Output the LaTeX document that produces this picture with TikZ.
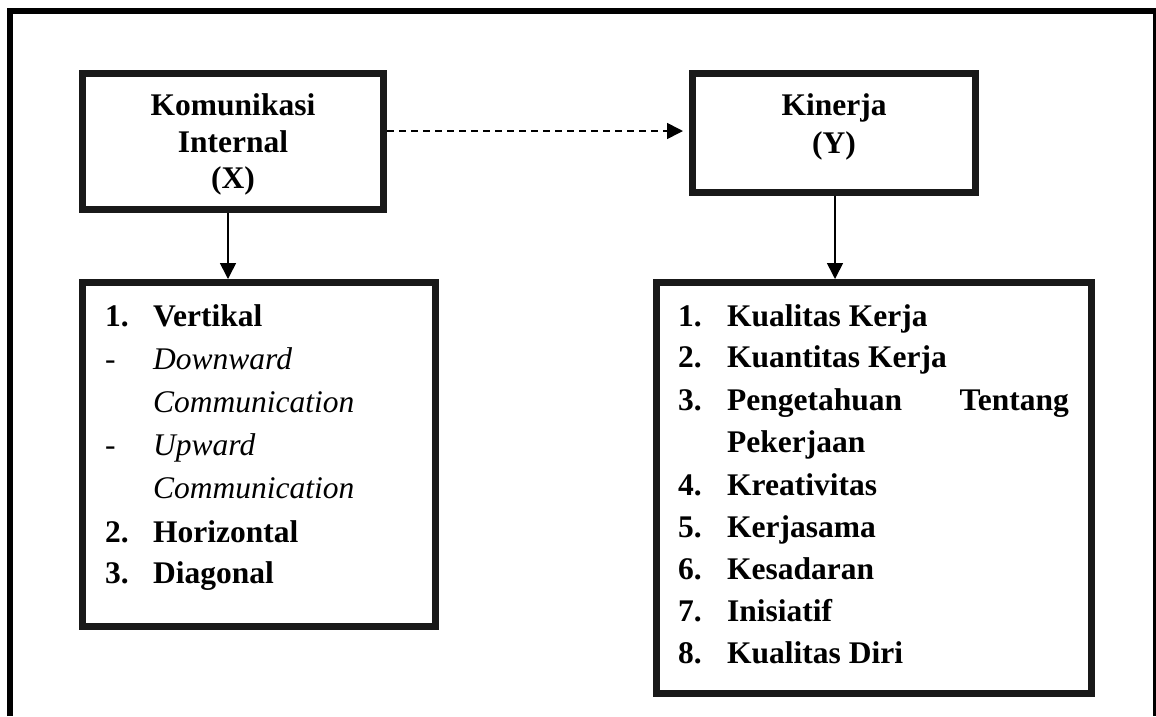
\documentclass[tikz,border=0pt]{standalone}
\usepackage{fontspec}
\setmainfont{Liberation Serif}
\usetikzlibrary{arrows.meta,calc}
\tikzset{
  box/.style={draw=black!90, line width=7pt, rectangle, inner sep=0pt, fill=white},
  lbl/.style={font=\fontsize{31.5}{37}\selectfont\bfseries, inner sep=0pt, anchor=base},
  item/.style={font=\fontsize{31.5}{37}\selectfont\bfseries, inner sep=0pt, anchor=base west},
  itemit/.style={font=\fontsize{31.5}{37}\selectfont\itshape, inner sep=0pt, anchor=base west},
  dashitem/.style={font=\fontsize{31.5}{37}\selectfont, inner sep=0pt, anchor=base west},
  conn/.style={line width=1.6pt, -{Triangle[length=16pt,width=16pt]}},
}
\begin{document}
\begin{tikzpicture}[x=1pt,y=-1pt]
\useasboundingbox (0,0) rectangle (1156,716);
% outer frame (top, left, right; no bottom)
\draw[line width=6.5pt] (10,716) -- (10,11) -- (1156,11);
\draw[line width=3pt] (1154.5,11) -- (1154.5,716);

% boxes
\node[box, minimum width=301pt, minimum height=136pt] (kx) at (233,141.5) {};
\node[box, minimum width=283pt, minimum height=119pt] (ky) at (834,133) {};
\node[box, minimum width=353pt, minimum height=344pt] (ix) at (259,454.5) {};
\node[box, minimum width=435pt, minimum height=411pt] (iy) at (874,488) {};

% top box labels
\node[lbl] (kx1) at (233,115) {Komunikasi};
\node[lbl] (kx2) at (233,152) {Internal};
\node[lbl] (kx3) at (233,188) {(X)};
\node[lbl] (ky1) at (834,115) {Kinerja};
\node[lbl] (ky2) at (834,153) {(Y)};

% left list
\node[item] (l1n) at (105,326) {1.};
\node[item] (l1) at (153,326) {Vertikal};
\node[dashitem] (l2d) at (105,369) {-};
\node[itemit] (l2) at (153,369) {Downward};
\node[itemit] (l3) at (153,412) {Communication};
\node[dashitem] (l4d) at (105,455) {-};
\node[itemit] (l4) at (153,455) {Upward};
\node[itemit] (l5) at (153,498) {Communication};
\node[item] (l6n) at (105,542) {2.};
\node[item] (l6) at (153,542) {Horizontal};
\node[item] (l7n) at (105,583) {3.};
\node[item] (l7) at (153,583) {Diagonal};

% right list
\node[item] (r1n) at (678,326) {1.};
\node[item] (r1) at (727,326) {Kualitas Kerja};
\node[item] (r2n) at (678,367) {2.};
\node[item] (r2) at (727,367) {Kuantitas Kerja};
\node[item] (r3n) at (678,410) {3.};
\node[item] (r3) at (727,410) {Pengetahuan};
\node[lbl, anchor=base east] (r3b) at (1069,410) {Tentang};
\node[item] (r3c) at (727,452) {Pekerjaan};
\node[item] (r4n) at (678,495) {4.};
\node[item] (r4) at (727,495) {Kreativitas};
\node[item] (r5n) at (678,537) {5.};
\node[item] (r5) at (727,537) {Kerjasama};
\node[item] (r6n) at (678,579) {6.};
\node[item] (r6) at (727,579) {Kesadaran};
\node[item] (r7n) at (678,621) {7.};
\node[item] (r7) at (727,621) {Inisiatif};
\node[item] (r8n) at (678,663) {8.};
\node[item] (r8) at (727,663) {Kualitas Diri};

% connectors
\draw[conn, dash pattern=on 7pt off 5pt, shorten >=6pt] ($(kx.east |- ky.west)+(0,-2)$) -- ($(ky.west)+(0,-2)$);
\draw[conn] ($(kx.south)+(-5,0)$) -- ($(kx.south |- ix.north)+(-5,0)$);
\draw[conn] ($(ky.south)+(1,0)$) -- ($(ky.south |- iy.north)+(1,0)$);
\end{tikzpicture}
\end{document}
